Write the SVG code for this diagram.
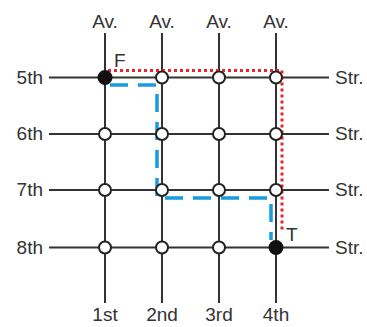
<svg xmlns="http://www.w3.org/2000/svg" width="367" height="327" viewBox="0 0 367 327">
<style>
.ln{stroke:#333;stroke-width:2;fill:none}
.t{font-family:"Liberation Sans",Arial,sans-serif;font-size:19px;fill:#333}
.o{fill:#fff;stroke:#222;stroke-width:2}
.f{fill:#111;stroke:#111;stroke-width:2}
</style>
<rect width="367" height="327" fill="#fff"/>
<g id="connectors">
<path class="ln" d="M49 77.5H329M49 134H329M49 190H329M49 247.5H329"/>
<path class="ln" d="M105 33V303M162 33V303M219 33V303M276 33V303"/>
<path d="M110 85H157V198H271V240" fill="none" stroke="#1a9be0" stroke-width="3.5" stroke-dasharray="18 10"/>
<path d="M108 70.5H282V232" fill="none" stroke="#e8262a" stroke-width="3" stroke-dasharray="3 3"/>
</g>
<g id="labels" class="t">
<text x="105" y="28" text-anchor="middle">Av.</text>
<text x="162" y="28" text-anchor="middle">Av.</text>
<text x="219" y="28" text-anchor="middle">Av.</text>
<text x="276" y="28" text-anchor="middle">Av.</text>
<text x="43" y="84" text-anchor="end">5th</text>
<text x="43" y="140" text-anchor="end">6th</text>
<text x="43" y="196" text-anchor="end">7th</text>
<text x="43" y="254" text-anchor="end">8th</text>
<text x="335" y="84">Str.</text>
<text x="335" y="140">Str.</text>
<text x="335" y="196">Str.</text>
<text x="335" y="254">Str.</text>
<text x="105" y="321" text-anchor="middle">1st</text>
<text x="162" y="321" text-anchor="middle">2nd</text>
<text x="219" y="321" text-anchor="middle">3rd</text>
<text x="276" y="321" text-anchor="middle">4th</text>
<text x="114" y="67">F</text>
<text x="286" y="241">T</text>
</g>
<g id="nodes">
<circle id="n-1-5" class="f" cx="105" cy="77.5" r="6.5"/>
<circle id="n-2-5" class="o" cx="162" cy="77.5" r="6"/>
<circle id="n-3-5" class="o" cx="219" cy="77.5" r="6"/>
<circle id="n-4-5" class="o" cx="276" cy="77.5" r="6"/>
<circle id="n-1-6" class="o" cx="105" cy="134" r="6"/>
<circle id="n-2-6" class="o" cx="162" cy="134" r="6"/>
<circle id="n-3-6" class="o" cx="219" cy="134" r="6"/>
<circle id="n-4-6" class="o" cx="276" cy="134" r="6"/>
<circle id="n-1-7" class="o" cx="105" cy="190" r="6"/>
<circle id="n-2-7" class="o" cx="162" cy="190" r="6"/>
<circle id="n-3-7" class="o" cx="219" cy="190" r="6"/>
<circle id="n-4-7" class="o" cx="276" cy="190" r="6"/>
<circle id="n-1-8" class="o" cx="105" cy="247.5" r="6"/>
<circle id="n-2-8" class="o" cx="162" cy="247.5" r="6"/>
<circle id="n-3-8" class="o" cx="219" cy="247.5" r="6"/>
<circle id="n-4-8" class="f" cx="276" cy="247.5" r="6.5"/>
</g>
</svg>
